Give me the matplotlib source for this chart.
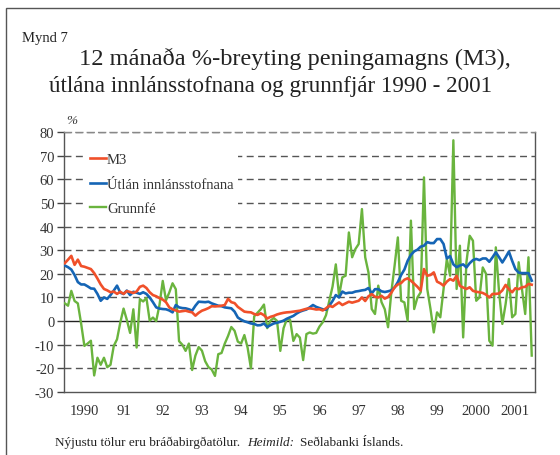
import numpy as np
import matplotlib
matplotlib.use('Agg')
import matplotlib.pyplot as plt
from matplotlib.patches import Rectangle

# ── data (monthly, Jan 1990 onwards, 12-month % change) ──
m3 = [24.5, 26, 27.6, 23.8, 26, 23.3, 23, 22.5, 22, 20.3, 18, 15.5,
      13.6, 13, 12.2, 12.5, 11.5, 12.4, 11.5, 12.7, 12.3, 11.9, 12.5, 14.5,
      15, 14, 12.2, 11, 10.5, 9.7, 9.1, 8, 5.8, 5, 4.5, 4,
      4.2, 4.4, 4, 3.7, 2.3, 3.5, 4.4, 4.9, 5.5, 6.3, 6.2, 6.3,
      6.5, 6.8, 9.4, 8, 7.6, 6, 5, 4, 3.8, 3.7, 3, 2.6,
      3.3, 2.5, 1.1, 1.8, 2.2, 2.8, 3.2, 3.5, 3.7, 3.8, 4, 4.2,
      4.4, 4.8, 5.2, 5.4, 5.2, 4.9, 5, 4.5, 5.4, 6.5, 6, 7,
      7.9, 6.8, 7.5, 8.2, 7.8, 8.2, 8.6, 10, 8.5, 10.5, 11.4, 10.3,
      10, 10.7, 9.5, 10.2, 12, 14.3, 15.5, 16.1, 17.5, 18.1, 17.1, 15.8,
      14.5, 12.9, 22, 19.2, 19.5, 20.6, 16.7, 16, 15, 16.7, 17.8, 17.1,
      19.2, 14.9, 14.2, 13.6, 14.3, 12.8, 12.4, 12.2, 11.9, 11.2, 10, 11.5,
      11.5, 11.7, 13, 15.3, 13.5, 12.2, 13.9, 13.5, 14.3, 14.5, 15.7, 15.4]

utlan = [23.5, 22.8, 21.8, 19.5, 16.5, 15.5, 15.5, 14.7, 13.8, 13.7, 11.5, 8.6,
         10, 9.4, 11, 12.9, 15, 12, 11.5, 12.9, 11, 12.4, 12, 11.5,
         12.2, 11.5, 10, 8, 5.8, 5.3, 5.1, 5, 4.5, 3.7, 6.8, 5.8,
         5.5, 5.4, 5, 4.4, 6.5, 8.2, 8.1, 8, 8.2, 7.5, 7, 6.5,
         6.3, 5.8, 5.6, 5.4, 4, 1.5, 0.6, -0.1, -0.5, -1, -1.2, -1.8,
         -1.7, -1, -2.5, -1.7, -1, -0.7, -0.3, 0.2, 1, 1.6, 2.2, 3.2,
         4, 4.5, 4.9, 5.8, 6.8, 6, 5.5, 5, 4.8, 6.5, 8.5, 11,
         10, 12.5, 11.7, 12, 12, 12.5, 12.7, 13, 13.2, 14, 11.7, 13.5,
         13.5, 12.6, 12.3, 12.6, 13, 14.2, 16.5, 19.5, 21.8, 25.5, 28, 29.5,
         30.2, 31.5, 31.9, 33.4, 33, 33, 34.7, 34.7, 32.6, 26.5, 27.5, 24,
         22.8, 23.5, 24, 22.7, 24.5, 25.8, 26.3, 25.8, 26.5, 26.5, 25.1, 27,
         29.1, 27, 24.8, 27, 29.4, 25.5, 22, 20.5, 20.3, 20.3, 20.3, 17.1]

grunnfe = [7.5, 6.5, 12.8, 8.5, 7.5, -1, -10.5, -9.5, -8.3, -23, -15.5, -18.5,
           -15.5, -19.5, -18.5, -10.5, -7.7, -0.6, 5.3, 0.5, -5, 5, -11.2, 9.3,
           8.3, 9.8, 0.2, 1.5, 0, 6.8, 17, 8.8, 12.1, 16, 13.5, -8.5,
           -10, -12.6, -9.5, -20.7, -14.6, -11, -12.5, -17, -19.5, -20.5, -23.2, -14,
           -13.5, -9.5, -6.3, -2.5, -4.1, -8.7, -9.5, -5.9, -11.3, -20, 2, 3.5,
           5, 7, -3, 0.2, 1.3, 0.1, -12.6, -3, 0.8, 0.5, -8.4, -5.5,
           -7, -16.5, -5.5, -4.8, -5.3, -5, -2.3, -0.5, 2.5, 8.5, 14.6, 24,
           10.7, 18.5, 19.2, 37.5, 27, 30.5, 32.6, 47.4, 27, 20.6, 5.1, 3,
           15, 8, 5, -2.6, 12.2, 23.4, 35.4, 8.6, 7.9, 0.2, 42.5, 5.1,
           10, 12.2, 60.8, 13.6, 5.1, -4.8, 3.7, 1.6, 13.6, 26.3, 19.2, 76.5,
           13.6, 31.9, -6.9, 24.9, 36.1, 34, 8.6, 10, 22.7, 20, -8.3, -10.4,
           31.2, 12.2, -1.2, 7.2, 17.8, 1.6, 3, 24.9, 13.6, 3, 27, -14.6]

year_labels = ['1990', '91', '92', '93', '94', '95', '96', '97', '98', '99', '2000', '2001']
y_ticks = [-30, -20, -10, 0, 10, 20, 30, 40, 50, 60, 70, 80]

t = 1990 + np.arange(len(m3)) / 12.0

plt.rcParams['font.family'] = ['Liberation Serif', 'DejaVu Serif']

W, H = 560, 456
fig = plt.figure(figsize=(W / 100, H / 100), dpi=100)
fig.patch.set_facecolor('white')

# outer frame
fig.add_artist(Rectangle((6 / W, -0.1), 1.2, 1 - 9 / H + 0.1, transform=fig.transFigure,
                         fill=False, edgecolor='#555555', linewidth=1.0))

ax = fig.add_axes([64 / W, 1 - 393 / H, 471 / W, 260 / H])
ax.set_facecolor('white')

for v in y_ticks:
    if v == 0:
        ax.axhline(0, color='#222222', linewidth=1.0, zorder=1)
    elif v != -30:
        ax.axhline(v, color='#555555', linewidth=1.0, linestyle=(0, (5, 3.2)), zorder=1)

ax.plot(t, grunnfe, color='#6ab43e', linewidth=1.7, zorder=3, label='Grunnfé')
ax.plot(t, utlan, color='#1565b5', linewidth=1.9, zorder=4, label='Útlán innlánsstofnana')
ax.plot(t, m3, color='#f0502a', linewidth=1.9, zorder=5, label='M3')

ax.set_xlim(1989.98, 2002.0)
ax.set_ylim(-30, 80)
ax.set_yticks(y_ticks)
ax.set_yticklabels([str(v) for v in y_ticks])
ax.set_xticks(1990.5 + np.arange(len(year_labels)))
ax.set_xticklabels(year_labels)

ax.tick_params(axis='y', length=5, width=1, color='#444444', labelsize=10.5,
               labelcolor='#333333', pad=2)
ax.tick_params(axis='x', length=0, labelsize=10.5, labelcolor='#333333', pad=9)

for side in ['left', 'bottom', 'right']:
    ax.spines[side].set_color('#555555')
    ax.spines[side].set_linewidth(1.0)
ax.spines['top'].set_color('#888888')
ax.spines['top'].set_linewidth(1.0)
ax.spines['top'].set_linestyle((0, (5, 3.2)))

handles, labels = ax.get_legend_handles_labels()
order = [2, 1, 0]
leg = ax.legend([handles[i] for i in order], [labels[i] for i in order],
                loc='upper left', bbox_to_anchor=(0.045, 0.935), frameon=True,
                fontsize=10.5, handlelength=1.1, handletextpad=0.1,
                labelspacing=0.75, borderpad=0.3, borderaxespad=0)
leg.get_frame().set_facecolor('white')
leg.get_frame().set_edgecolor('none')
leg.get_frame().set_alpha(1)
for txt in leg.get_texts():
    txt.set_color('#333333')

# texts
fig.text(22 / W, 1 - 42 / H, 'Mynd 7', fontsize=10.5, color='#222222', va='baseline')
fig.text(295 / W, 1 - 65 / H, '12 mánaða %-breyting peningamagns (M3),',
         fontsize=17.6, color='#222222', ha='center', va='baseline')
fig.text(271 / W, 1 - 92 / H, 'útlána innlánsstofnana og grunnfjár 1990 - 2001',
         fontsize=16.6, color='#222222', ha='center', va='baseline')
fig.text(72 / W, 1 - 124 / H, '%', fontsize=9.5, style='italic', color='#333333',
         ha='center', va='baseline')

fig.text(55 / W, 1 - 446 / H, 'Nýjustu tölur eru bráðabirgðatölur.', fontsize=9.5,
         color='#222222', va='baseline')
fig.text(247 / W, 1 - 446 / H, 'Heimild:', fontsize=9.5, style='italic',
         color='#222222', va='baseline')
fig.text(300 / W, 1 - 446 / H, 'Seðlabanki Íslands.', fontsize=9.5,
         color='#222222', va='baseline')

fig.savefig('out.png', dpi=100, facecolor='white')
